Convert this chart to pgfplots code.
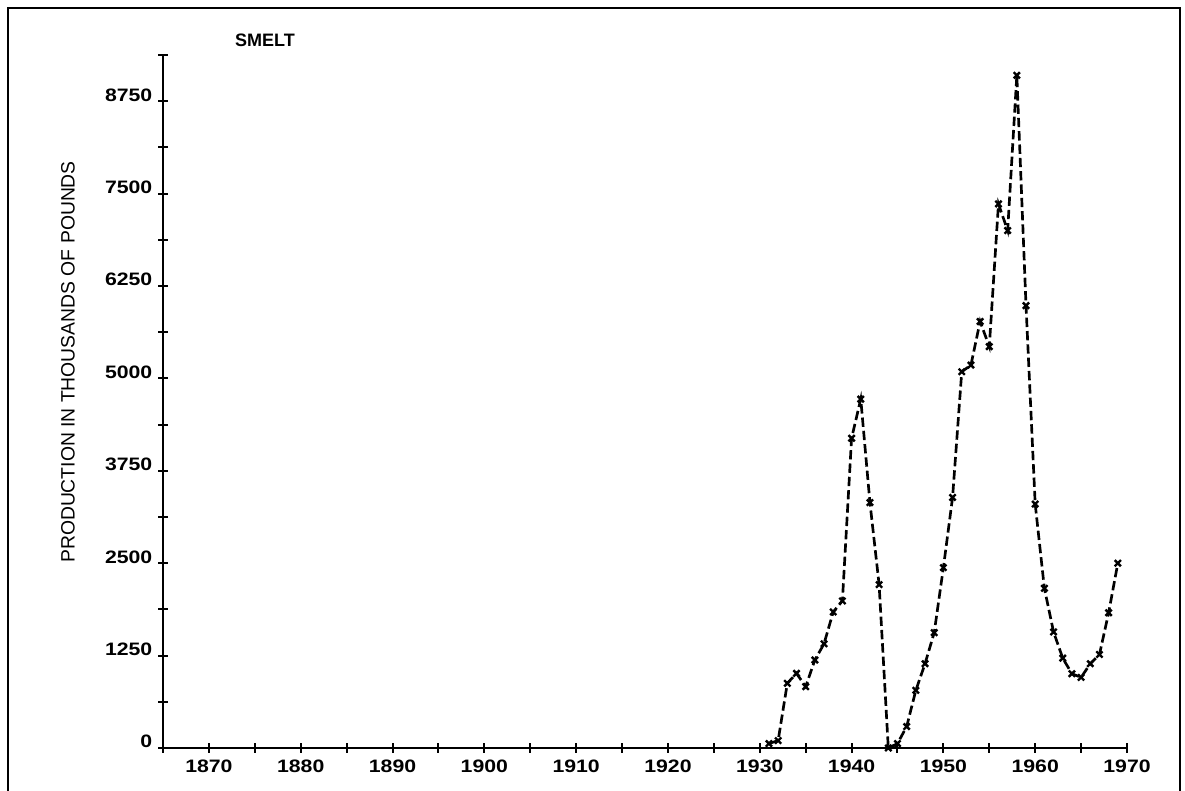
\documentclass[border=0pt]{standalone}
\usepackage{fontspec}
\setmainfont{Liberation Sans}
\newfontfamily\plotfont[FakeStretch=1.18]{Liberation Sans}
\usepackage{pgfplots}
\usepackage{pgfplotstable}
\pgfplotsset{compat=1.18}
\pgfplotstableread{
year value
1931 60
1932 100
1933 875
1934 1010
1935 830
1936 1190
1937 1410
1938 1840
1939 1990
1940 4190
1941 4720
1942 3320
1943 2210
1944 0
1945 60
1946 290
1947 780
1948 1140
1949 1560
1950 2440
1951 3390
1952 5090
1953 5180
1954 5770
1955 5430
1956 7360
1957 7000
1958 9100
1959 5985
1960 3300
1961 2160
1962 1570
1963 1215
1964 1005
1965 955
1966 1140
1967 1265
1968 1830
1969 2500
}\smelt
\begin{document}
\begin{tikzpicture}
\useasboundingbox (0pt,0pt) rectangle (888.75pt,593.25pt);
\draw[line width=1.6pt] (6pt,-3pt) -- (6pt,587.25pt) -- (885pt,587.25pt) -- (885pt,-3pt);
\node[font=\bfseries\fontsize{13.5}{14}\selectfont] at (198.75pt,563.25pt) {SMELT};
\node[rotate=90,font=\fontsize{14.5}{15}\selectfont] at (51pt,321.75pt) {PRODUCTION IN THOUSANDS OF POUNDS};
\begin{axis}[
  at={(122.25pt,32.25pt)}, anchor=south west,
  scale only axis, width=723pt, height=519.75pt,
  xmin=1865, xmax=1970, ymin=0, ymax=9375,
  axis x line=bottom, axis y line=left,
  axis line style={line width=2pt,-},
  xtick={1870,1880,...,1970}, minor xtick={1865,1875,...,1965},
  ytick={0,1250,...,8750}, minor ytick={625,1875,...,9375},
  tick align=center, major tick length=7pt, minor tick length=7pt,
  every tick/.style={line width=1.5pt,black},
  /pgf/number format/assume math mode=true,
  /pgf/number format/1000 sep={},
  xticklabel style={font=\plotfont\bfseries\fontsize{13.5}{14}\selectfont, anchor=north, yshift=-2pt},
  yticklabel style={font=\plotfont\bfseries\fontsize{13.5}{14}\selectfont, anchor=base east, xshift=-1pt, yshift=0pt},
  clip=false,
]
\addplot[black, line width=2pt, dash pattern=on 7pt off 3pt, mark=x, mark size=3.3pt, mark options={solid, line width=1.8pt}] table[x=year,y=value] {\smelt};
\end{axis}
\end{tikzpicture}
\end{document}
